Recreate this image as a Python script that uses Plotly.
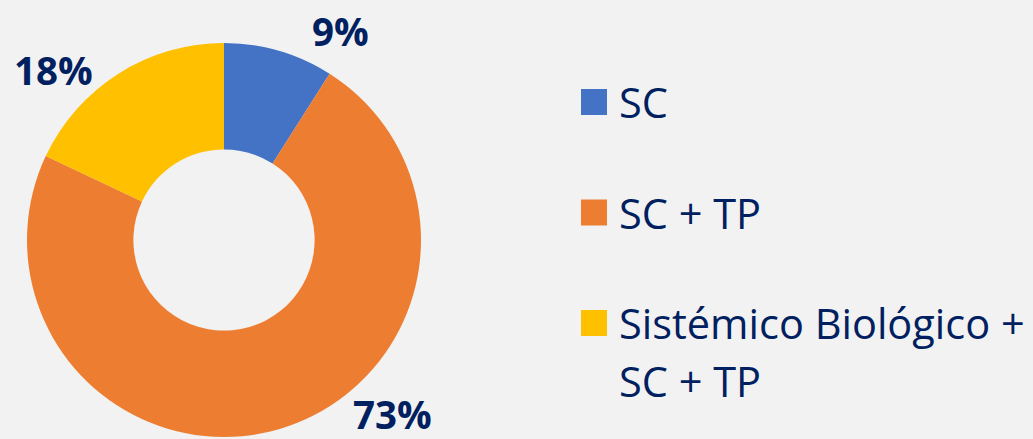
import plotly.graph_objects as go

W, H = 1033, 439

categories = ["SC", "SC + TP", "Sistémico Biológico +\nSC + TP"]
values = [9, 73, 18]
colors = ["#4472C4", "#ED7D31", "#FFC000"]
# label anchor positions (pixels) for the percentage data labels
label_pos = [(340, 31), (392, 414), (53, 70)]

TEXT = "#002060"
BG = "#F2F2F2"
FONT = "Open Sans"

def px(x):
    return x / W

def py(y):
    return 1 - y / H

fig = go.Figure()
fig.add_trace(go.Pie(
    labels=[c.replace("\n", " ") for c in categories],
    values=values,
    marker=dict(colors=colors, line=dict(width=0)),
    hole=0.46,
    sort=False,
    direction="clockwise",
    rotation=0,
    textinfo="none",
    hoverinfo="label+percent",
    showlegend=False,
    domain=dict(x=[px(27), px(421)], y=[py(437), py(43)]),
))

total = sum(values)
annotations = []
for v, (x, y) in zip(values, label_pos):
    annotations.append(dict(
        x=px(x), y=py(y), xref="paper", yref="paper",
        text=f"<b>{round(100 * v / total)}%</b>", showarrow=False,
        font=dict(family=FONT, size=38.5, color=TEXT),
        xanchor="center", yanchor="middle", borderpad=0,
    ))

# manual legend
shapes = []
leg_y0 = 102
leg_step = 110.5
for i, (cat, col) in enumerate(zip(categories, colors)):
    cy = leg_y0 + i * leg_step
    shapes.append(dict(type="rect", xref="paper", yref="paper",
                       x0=px(581), x1=px(607), y0=py(cy + 13), y1=py(cy - 13),
                       fillcolor=col, line=dict(width=0)))
    for j, line in enumerate(cat.split("\n")):
        annotations.append(dict(
            x=px(617), y=py(cy + j * 58), xref="paper", yref="paper",
            text=line, showarrow=False,
            font=dict(family=FONT, size=41.5, color=TEXT),
            xanchor="left", yanchor="middle",
        ))

fig.update_layout(
    width=W, height=H,
    margin=dict(l=0, r=0, t=0, b=0),
    paper_bgcolor=BG, plot_bgcolor=BG,
    annotations=annotations, shapes=shapes,
    showlegend=False,
)

fig.write_html(
    "out.html",
    config={"displayModeBar": False},
    post_script="document.body.style.margin='0';document.body.style.background='#F2F2F2';",
)
